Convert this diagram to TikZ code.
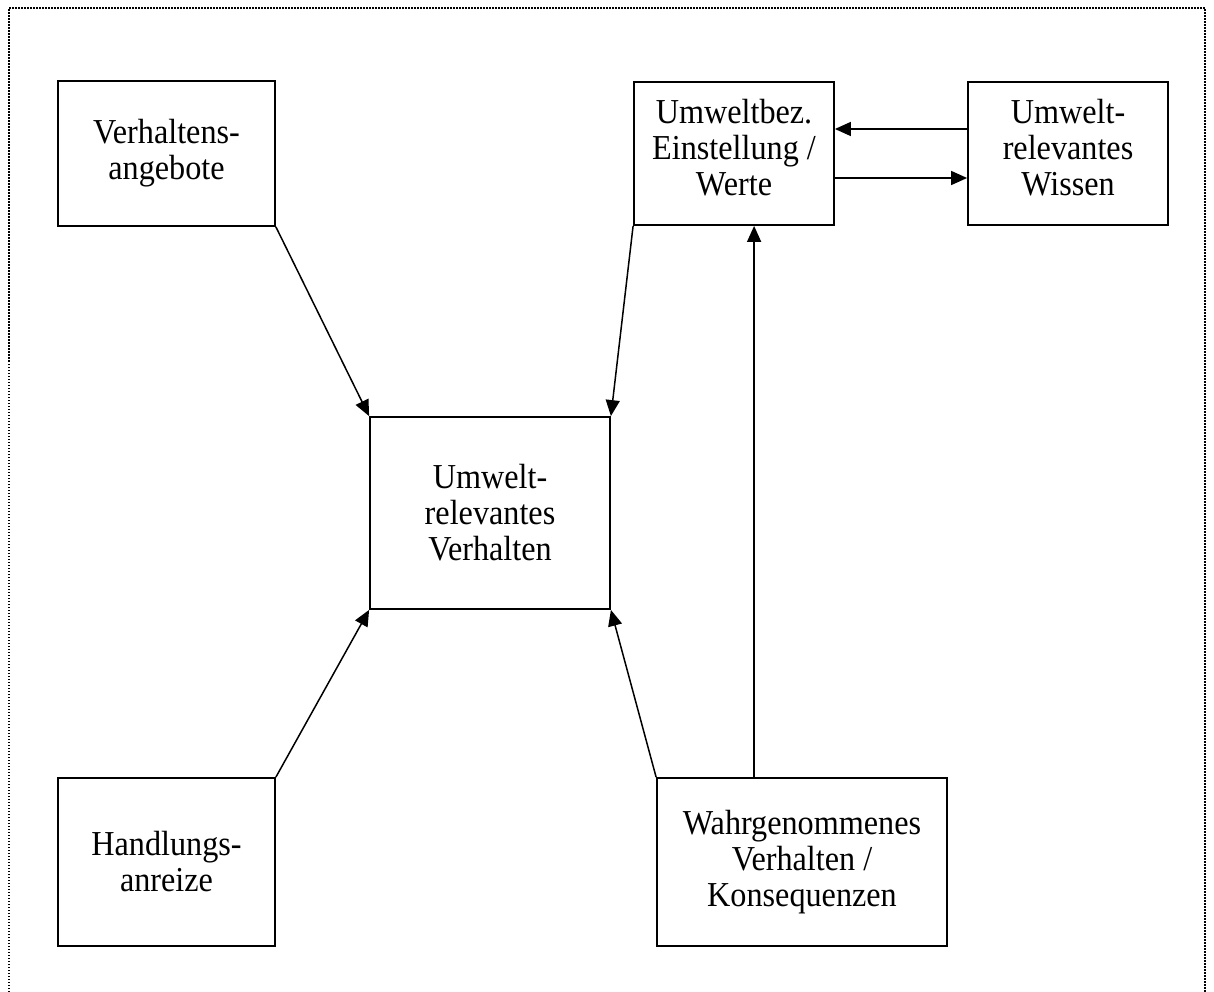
\documentclass[tikz,border=0pt]{standalone}
\usepackage{fontspec}
\setmainfont{Liberation Serif}[FakeStretch=0.92]
\usetikzlibrary{arrows.meta}
\begin{document}
\begin{tikzpicture}[x=1pt,y=-1pt,
  txt/.style={inner sep=0pt,align=center,font=\fontsize{35}{36}\selectfont},
  box/.style={txt,draw,line width=1.8pt},
  arr/.style={line width=1.5pt,-{Triangle[length=16pt,width=14pt]}},
  frame/.style={line width=1.5pt,dash pattern=on 1.5pt off 1.5pt}]
\useasboundingbox (0,0) rectangle (1214,992);
\draw[frame] (9,992) -- (9,8) -- (1205,8) -- (1205,992);
\node[box,minimum width=217pt,minimum height=145pt] (va) at (166.5,153.5) {Verhaltens-\\angebote};
\node[box,minimum width=200pt,minimum height=143pt] (ue) at (734,153.5) {};
\node[txt] (uet) at ([yshift=6pt]ue.center) {Umweltbez.\\Einstellung /\\Werte};
\node[box,minimum width=200pt,minimum height=143pt] (wi) at (1068,153.5) {};
\node[txt] (wit) at ([yshift=6pt]wi.center) {Umwelt-\\relevantes\\Wissen};
\node[box,minimum width=240pt,minimum height=192pt] (c) at (490,513) {Umwelt-\\relevantes\\Verhalten};
\node[box,minimum width=217pt,minimum height=168pt] (ha) at (166.5,862) {Handlungs-\\anreize};
\node[box,minimum width=290pt,minimum height=168pt] (wg) at (802,862) {Wahrgenommenes\\Verhalten /\\Konsequenzen};
\draw[arr] (va.south east) -- (c.north west);
\draw[arr] (ue.south west) -- (c.north east);
\draw[arr] (ha.north east) -- (c.south west);
\draw[arr] (wg.north west) -- (c.south east);
\coordinate (wgt) at ([xshift=98pt]wg.north west);
\draw[arr] (wgt) -- (wgt |- ue.south);
\draw[arr] ([yshift=24.5pt]wi.west) -- ([yshift=24.5pt]ue.east);
\draw[arr] ([yshift=-24.5pt]ue.east) -- ([yshift=-24.5pt]wi.west);
\end{tikzpicture}
\end{document}
